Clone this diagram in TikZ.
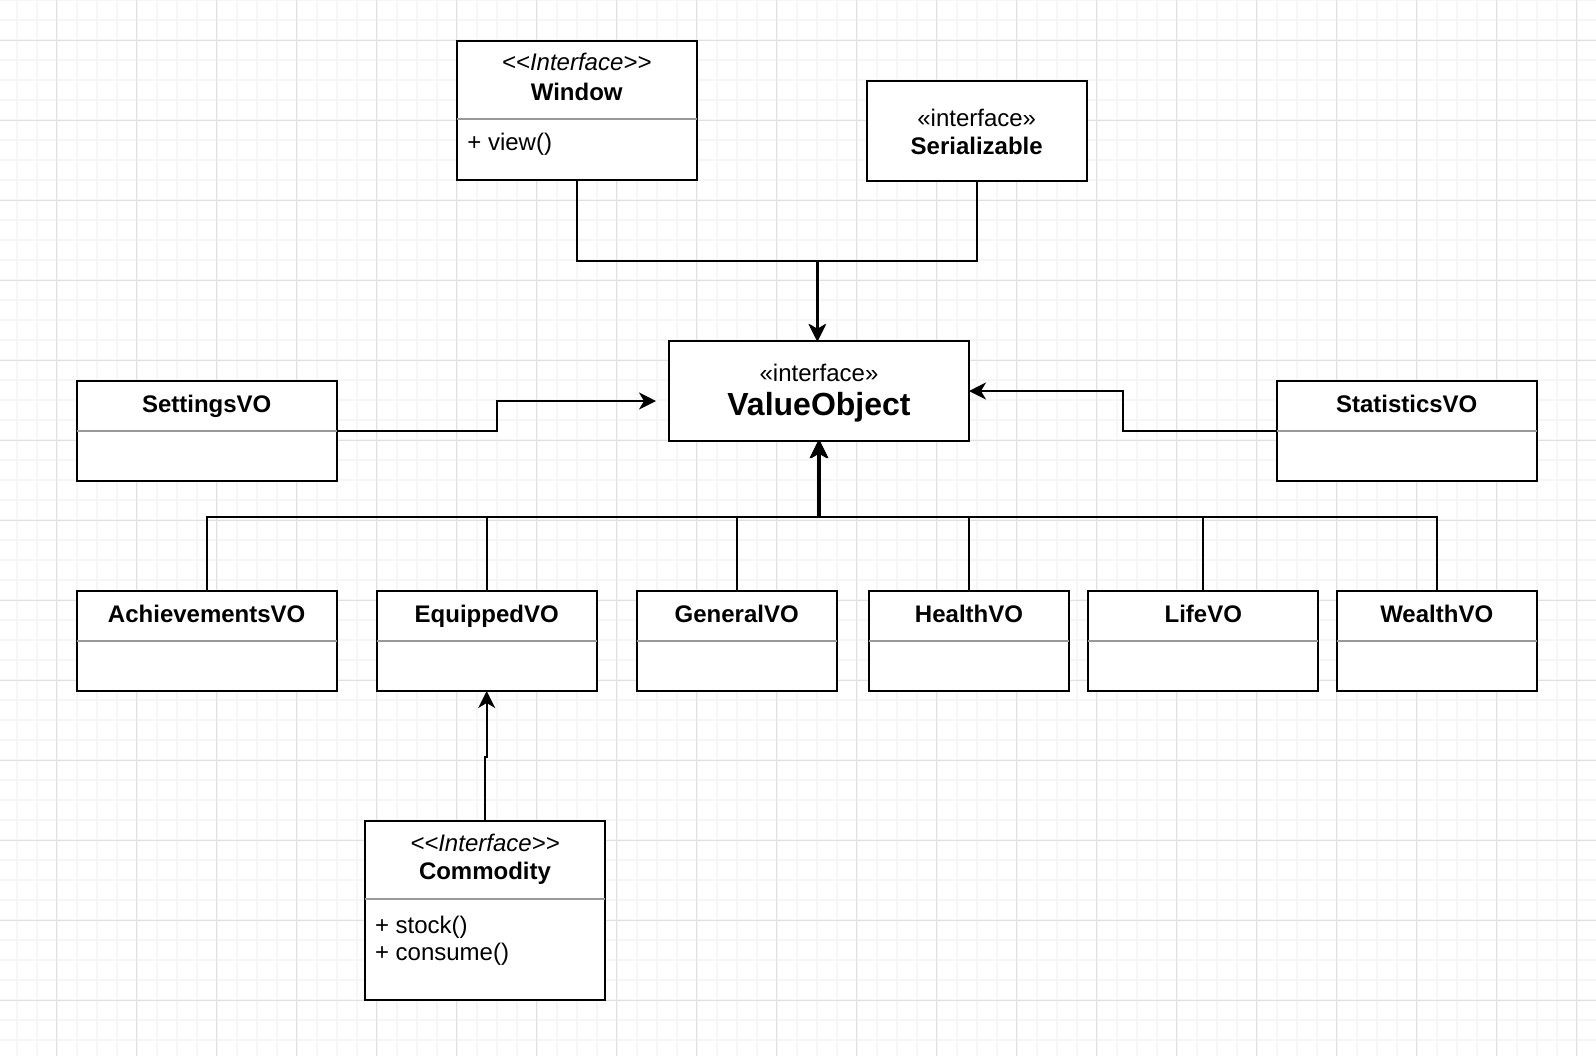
\documentclass[tikz,border=0pt]{standalone}
\usepackage{fontspec}
\setmainfont{Liberation Sans}
\usepackage{xcolor}
\usetikzlibrary{positioning, calc, arrows.meta}

\definecolor{gridminor}{HTML}{F6F6F6}
\definecolor{gridmajor}{HTML}{E0E0E0}
\definecolor{divgray}{HTML}{999999}

\tikzset{
	classbox/.style={draw=black, line width=1pt, fill=white, anchor=north west, inner sep=0pt, outer sep=0pt},
	classtitle/.style={font=\fontsize{12}{14}\selectfont\bfseries, anchor=base, inner sep=0pt},
	bigtitle/.style={font=\fontsize{16}{19}\selectfont\bfseries, anchor=base, inner sep=0pt},
	stereo/.style={font=\fontsize{12}{14}\selectfont\itshape, anchor=base, inner sep=0pt},
	stereoup/.style={font=\fontsize{12}{14}\selectfont, anchor=base, inner sep=0pt},
	member/.style={font=\fontsize{12}{14}\selectfont, anchor=base west, inner sep=0pt},
	divider/.style={draw=divgray, line width=1pt},
	realize/.style={draw=black, line width=1pt, -{Stealth[length=8.5pt, width=8.5pt, inset=2.5pt]}}
}

\begin{document}
\begin{tikzpicture}[x=0.5pt, y=-0.5pt]
	\useasboundingbox (0,0) rectangle (1596,1056);
	\fill[white] (0,0) rectangle (1596,1056);
	% grid
	\foreach \i in {0,...,78}
		\draw[gridminor, line width=1pt] (16.7+20*\i,0) -- ++(0,1056);
	\foreach \i in {0,...,52}
		\draw[gridminor, line width=1pt] (0,20*\i) -- ++(1596,0);
	\foreach \i in {0,...,19}
		\draw[gridmajor, line width=0.5pt] (56.7+80*\i,0) -- ++(0,1056);
	\foreach \i in {0,...,12}
		\draw[gridmajor, line width=0.5pt] (0,40+80*\i) -- ++(1596,0);

	% interfaces on top
	\node[classbox, minimum width=120pt, minimum height=69.5pt] (win) at (456.7,41) {};
	\node[stereo] (win-st) at (576.7,70) {<\kern0pt<Interface>\kern0pt>};
	\node[classtitle] (win-t) at (576.7,100) {Window};
	\draw[divider] ($(win.north west)+(0,78)$) -- ($(win.north east)+(0,78)$);
	\node[member] (win-m) at (467,150.7) {+ view()};

	\node[classbox, minimum width=110pt, minimum height=50pt] (ser) at (866.7,81) {};
	\node[stereoup] (ser-st) at (976.7,126) {«interface»};
	\node[classtitle] (ser-t) at (976.7,154) {Serializable};

	% central interface
	\node[classbox, minimum width=150pt, minimum height=50pt] (vo) at (669,341) {};
	\node[stereoup] (vo-st) at (819,381.7) {«interface»};
	\node[bigtitle] (vo-t) at (819,415.7) {ValueObject};
	\coordinate (vo-in) at ([shift={(-13,10)}]vo.west);

	\draw[realize] (win.south) -- ++(0,80.7) -| ([xshift=-1pt]vo.north);
	\draw[realize] (ser.south) -- ++(0,79.7) -| ([xshift=-0.6pt]vo.north);

	% side classes
	\node[classbox, minimum width=130pt, minimum height=50pt] (set) at (76.7,381) {};
	\node[classtitle] (set-t) at (206.7,412.7) {SettingsVO};
	\draw[divider] ($(set.north west)+(0,50)$) -- ($(set.north east)+(0,50)$);
	\draw[realize] (set.east) -- ++(160,0) |- (vo-in);

	\node[classbox, minimum width=130pt, minimum height=50pt] (stat) at (1276.7,381) {};
	\node[classtitle] (stat-t) at (1406.7,412.7) {StatisticsVO};
	\draw[divider] ($(stat.north west)+(0,50)$) -- ($(stat.north east)+(0,50)$);
	\draw[realize] (stat.west) -- ++(-153.4,0) |- (vo.east);

	% row of value objects
	\foreach \n/\l/\x/\w/\s in {ach/AchievementsVO/76.7/260/-0.4, eq/EquippedVO/376.7/220/0, gen/GeneralVO/636.7/200/0.4, hea/HealthVO/869/200/-0.4, life/LifeVO/1088.3/230/0, wea/WealthVO/1336.7/200/0.4}
	{
		\node[classbox, minimum width={\w*0.5pt}, minimum height=50pt] (\n) at (\x,591) {};
		\node[classtitle] (\n-t) at ($(\n.north)+(0,31)$) {\l};
		\draw[divider] ($(\n.north west)+(0,50)$) -- ($(\n.north east)+(0,50)$);
		\draw[realize] (\n.north) -- ++(0,-74.3) -| ([xshift=\s pt]vo.south);
	}

	% commodity
	\node[classbox, minimum width=120pt, minimum height=89.5pt] (com) at (365,821) {};
	\node[stereo] (com-st) at (485,851.7) {<\kern0pt<Interface>\kern0pt>};
	\node[classtitle] (com-t) at (485,879) {Commodity};
	\draw[divider] ($(com.north west)+(0,77.7)$) -- ($(com.north east)+(0,77.7)$);
	\node[member] (com-m1) at (374.6,933.3) {+ stock()};
	\node[member] (com-m2) at (374.6,960.5) {+ consume()};
	\draw[realize] (com.north) -- ++(0,-64.3) -| (eq.south);
\end{tikzpicture}
\end{document}
